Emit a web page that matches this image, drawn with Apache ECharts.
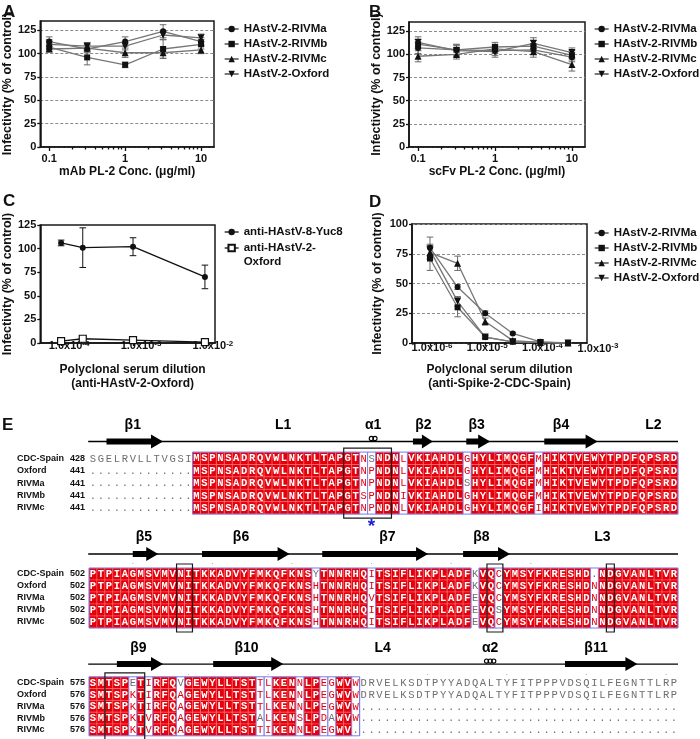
<!DOCTYPE html>
<html>
<head>
<meta charset="utf-8">
<script src="https://cdn.jsdelivr.net/npm/echarts@6.0.0/dist/echarts.min.js"></script>
<style>
html,body{margin:0;padding:0;background:#fff;}
#chart{width:700px;height:739px;}
</style>
</head>
<body>
<div id="chart"></div>
<script>
/* ================= DATA ================= */
const seriesNames = ['HAstV-2-RIVMa', 'HAstV-2-RIVMb', 'HAstV-2-RIVMc', 'HAstV-2-Oxford'];
/* Panel A */
const concA = [0.1, 0.316, 1, 3.16, 10];
const aRIVMa = [113, 105, 113, 124, 113];
const aRIVMb = [107, 96, 88, 105, 110];
const aRIVMc = [105, 106, 101, 101, 104];
const aOxford = [110, 108, 108, 120, 117];
const aErrRIVMa = [5, 4, 5, 7, 4];
const aErrRIVMb = [4, 8, 3, 10, 5];
const aErrRIVMc = [3, 4, 5, 6, 4];
const aErrOxford = [5, 4, 4, 5, 4];
/* Panel B */
const concB = [0.1, 0.316, 1, 3.16, 10];
const bRIVMa = [107, 105, 104, 105, 97];
const bRIVMb = [111, 105, 108, 109, 99];
const bRIVMc = [98, 100, 106, 103, 89];
const bOxford = [113, 104, 103, 112, 102];
const bErrRIVMa = [6, 5, 5, 5, 5];
const bErrRIVMb = [5, 6, 5, 6, 5];
const bErrRIVMc = [6, 5, 5, 6, 7];
const bErrOxford = [6, 6, 6, 6, 5];
/* Panel C */
const cSeriesNames = ['anti-HAstV-8-Yuc8', 'anti-HAstV-2-Oxford'];
const dilC = [1e-4, 2e-4, 1e-3, 1e-2];
const cYuc8 = [106, 101, 102, 70];
const cErrYuc8 = [3, 21, 9.5, 12.5];
const cOxford = [2, 4.5, 3, 1];
const cErrOxford = [0.8, 0.8, 0.8, 0.5];
/* Panel D */
const dilD = [1e-6, 3.16e-6, 1e-5, 3.16e-5, 1e-4, 3.16e-4];
const dRIVMa = [80, 47, 25, 8, 1, 0];
const dRIVMb = [71, 30, 5, 1, 0.5, 0];
const dRIVMc = [76, 67, 18, 2, 0.5, 0];
const dOxford = [78, 35, 5, 1, 0.5, 0];
const dErrRIVMa = [9, 2, 2, 1, 0.5, 0];
const dErrRIVMb = [10, 8, 1, 0.5, 0.3, 0];
const dErrRIVMc = [6, 6, 3, 1, 0.3, 0];
const dErrOxford = [5, 4, 1, 0.5, 0.3, 0];
/* Ticks */
const yTicksABC = [0, 25, 50, 75, 100, 125];
const yTicksD = [0, 25, 50, 75, 100];
const xTicksAB = [0.1, 1, 10];
const xTickLabelsAB = ['0.1', '1', '10'];
const xTicksC = [1e-4, 1e-3, 1e-2];
const xTickLabelsC = ['1.0x10^-4', '1.0x10^-3', '1.0x10^-2'];
const xTicksD = [1e-6, 1e-5, 1e-4, 1e-3];
const xTickLabelsD = ['1.0x10^-6', '1.0x10^-5', '1.0x10^-4', '1.0x10^-3'];
/* Alignment (panel E) */
const seqNames = ['CDC-Spain', 'Oxford', 'RIVMa', 'RIVMb', 'RIVMc'];
const block1Start = [428, 441, 441, 441, 441];
const block1Seq = [
  'SGELRVLLTVGSIMSPNSADRQVWLNKTLTAPGTNSNDNLVKIAHDLGHYLIMQGFMHIKTVEWYTPDFQPSRD',
  '.............MSPNSADRQVWLNKTLTAPGTNPNDNLVKIAHDLGHYLIMQGFMHIKTVEWYTPDFQPSRD',
  '.............MSPNSADRQVWLNKTLTAPGTNPNDNLVKIAHDLSHYLIMQGFMHIKTVEWYTPDFQPSRD',
  '.............MSPNSADRQVWLNKTLTAPGTSPNDNIVKIAHDLGHYLIMQGFMHIKTVEWYTPDFQPSRD',
  '.............MSPNSADRQVWLNKTLTAPGTNPNDNLVKIAHDLGHYLIMQGFIHIKTVEWYTPDFQPSRD'
];
const block2Start = [502, 502, 502, 502, 502];
const block2Seq = [
  'PTPIAGMSVMVNITKKADVYFMKQFKNSYTNNRHQITSIFLIKPLADFKVQCYMSYFKRESHD.NDGVANLTVR',
  'PTPIAGMSVMVNITKKADVYFMKQFKNSHTNNRHQITSIFLIKPLADFKVQCYMSYFKRESHDNNDGVANLTVR',
  'PTPIAGMSVMVNITKKADVYFMKQFKNSHTNNRHQVTSIFLIKPLADFEVQCYMSYFKRESHDNNDGVANLTVR',
  'PTPIAGMSVMVNITKKADVYFMKQFKNSHTNNRHQITSIFLIKPLADFEVQSYMSYFKRESHDNNDGVANLTVR',
  'PTPIAGMSVMVNITKKADVYFMKQFKNSHTNNRHQITSIFLIKPLADFEVQCYMSYFKRESHDNNDGVANLTVR'
];
const block3Start = [575, 576, 576, 576, 576];
const block3Seq = [
  'SMTSPETIRFQVGEWYLLTSTTLKENNLPEGWVWDRVELKSDTPYYADQALTYFITPPPVDSQILFEGNTTLRP',
  'SMTSPKTIRFQAGEWYLLTSTTLKENNLPEGWVWDRVELKSDTPYYADQALTYFITPPPVDSQILFEGNTTLRP',
  'SMTSPKTIRFQAGEWYLLTSTTLKENNLPEGWVW........................................',
  'SMTSPKTVRFQAGEWYLLTSTALKENSLPDAWVW........................................',
  'SMTSPKTVRFQAGEWYLLTSTTIKENNLPEGWV.........................................'
];
const block1Boxes = [[32, 37]];
const block2Boxes = [[11, 12], [50, 51], [65, 65]];
const block3Boxes = [[2, 6]];
const block1Strands = [[2.2, 9.3], [40.7, 43.2], [47.4, 50.4], [57.2, 63.9]];
const block2Strands = [[5.5, 8.7], [14.2, 25.2], [29.3, 42.6], [47.0, 52.9]];
const block3Strands = [[3.5, 9.3], [15.6, 24.4], [59.8, 68.9]];
const block1Labels = [['β1', 5.5], ['L1', 24.4], ['α1', 35.7], ['β2', 42.0], ['β3', 48.7], ['β4', 59.3], ['L2', 70.9]];
const block2Labels = [['β5', 6.9], ['β6', 19.1], ['β7', 37.5], ['β8', 49.3], ['L3', 64.5]];
const block3Labels = [['β9', 6.2], ['β10', 19.8], ['L4', 36.9], ['α2', 50.4], ['β11', 63.7]];
const block1Helix = [[35.7, 2]];
const block2Helix = [];
const block3Helix = [[50.4, 3]];
const block1Dots = [];
const block2Dots = [5, 15, 25, 35, 45, 55, 65];
const block3Dots = [12, 22, 32, 42, 52, 62, 72];
const block1Stars = [35];
const block2Stars = [];
const block3Stars = [];

/* ================= STYLE ================= */
const SANS = 'Liberation Sans';
const MONO = 'Liberation Mono';
const RED = '#e3000b';
const GRAYTXT = '#6e6e6e';
const BLUE = '#7b7be8';
const INK = '#111';

const L10 = Math.log10;
const AB_MIN = -1.118, AB_MAX = 1.17;
const C_MIN = -4.29, C_MAX = -1.86;
const D_MIN = -6.326, D_MAX = -3.156;

const minorAB = [];
[-1, 0].forEach(d => { for (let k = 2; k <= 9; k++) minorAB.push(L10(k * Math.pow(10, d))); });

const symbols = [
  {symbol: 'circle', symbolSize: 6, symbolRotate: 0},
  {symbol: 'rect', symbolSize: 6, symbolRotate: 0},
  {symbol: 'triangle', symbolSize: 7, symbolRotate: 0},
  {symbol: 'triangle', symbolSize: 7, symbolRotate: 180}
];

function lineSeries(name, xs, ys, xi, yi, sym, lineColor, itemStyle) {
  return {
    type: 'line', name, xAxisIndex: xi, yAxisIndex: yi,
    data: xs.map((x, i) => [L10(x), ys[i]]),
    symbol: sym.symbol, symbolSize: sym.symbolSize, symbolRotate: sym.symbolRotate,
    showAllSymbol: true, silent: true, z: 4,
    lineStyle: {color: lineColor, width: 1.3},
    itemStyle: itemStyle || {color: INK}
  };
}
function errRender(color, cap) {
  return function (params, api) {
    const x = api.value(0), y = api.value(1), e = api.value(2);
    const lo = Math.max(0, y - e);
    const pHi = api.coord([x, y + e]), pLo = api.coord([x, lo]);
    const st = {stroke: color, lineWidth: 1};
    return {type: 'group', children: [
      {type: 'line', shape: {x1: pHi[0], y1: pHi[1], x2: pLo[0], y2: pLo[1]}, style: st},
      {type: 'line', shape: {x1: pHi[0] - cap, y1: pHi[1], x2: pHi[0] + cap, y2: pHi[1]}, style: st},
      {type: 'line', shape: {x1: pLo[0] - cap, y1: pLo[1], x2: pLo[0] + cap, y2: pLo[1]}, style: st}
    ]};
  };
}
function errSeries(xs, ys, es, xi, yi, color) {
  return {type: 'custom', xAxisIndex: xi, yAxisIndex: yi, silent: true, z: 3,
    data: xs.map((x, i) => [L10(x), ys[i], es[i]]), renderItem: errRender(color, 3.3)};
}

const axisLineSt = {show: true, onZero: false, lineStyle: {color: INK, width: 1.5}};
const tickSt = {color: INK, width: 1.3};
const nameSt = {fontFamily: SANS, fontWeight: 'bold', fontSize: 12, color: INK, lineHeight: 14};
const yNameSt = {fontFamily: SANS, fontWeight: 'bold', fontSize: 12.5, color: INK};
const labelSt = {fontFamily: SANS, fontWeight: 'bold', fontSize: 11, color: INK};
const supRich = {
  b: {fontFamily: SANS, fontWeight: 'bold', fontSize: 11, color: INK, lineHeight: 11, verticalAlign: 'bottom'},
  s: {fontFamily: SANS, fontWeight: 'bold', fontSize: 8, color: INK, lineHeight: 8, verticalAlign: 'top', padding: [0, 0, 6, 0]},
  g: {width: 18}
};
function supText(str) { const p = str.split('^'); return '{b|' + p[0] + '}{s|' + p[1] + '}'; }
function pickLabel(ticks, labels, v, tol) {
  const i = ticks.findIndex(t => Math.abs(L10(t) - v) < tol);
  return i < 0 ? '' : labels[i];
}

function yAxisCfg(gi, max, ticks, name, gap, split) {
  return {
    type: 'value', gridIndex: gi, min: 0, max: max, interval: 25,
    name: name, nameLocation: 'middle', nameGap: gap, nameTextStyle: yNameSt,
    axisLine: axisLineSt,
    axisTick: {show: true, length: 3, customValues: ticks, lineStyle: tickSt},
    axisLabel: Object.assign({show: true, customValues: ticks, margin: 4}, labelSt),
    splitLine: {show: split, lineStyle: {type: [3, 2], color: '#8c8c8c', width: 1}}
  };
}

/* ================= ALIGNMENT HELPERS ================= */
const blocks = [
  {rows: block1Seq, starts: block1Start, boxes: block1Boxes, strands: block1Strands, labels: block1Labels, helix: block1Helix, dots: block1Dots, stars: block1Stars},
  {rows: block2Seq, starts: block2Start, boxes: block2Boxes, strands: block2Strands, labels: block2Labels, helix: block2Helix, dots: block2Dots, stars: block2Stars},
  {rows: block3Seq, starts: block3Start, boxes: block3Boxes, strands: block3Strands, labels: block3Labels, helix: block3Helix, dots: block3Dots, stars: block3Stars}
];
const blockLayout = [
  {top: 452.1, h: 62, lineY: -0.855, labelY: -2.19, dotsY: -0.45, starY: 5.72},
  {top: 568, h: 60, lineY: -1.167, labelY: -2.54, dotsY: -0.5, starY: 5.7},
  {top: 676.8, h: 59, lineY: -1.08, labelY: -2.44, dotsY: -0.33, starY: 5.7}
];
const simGroups = ['ILVM', 'NS', 'DE'];
function similar(a, b) { return a === b || simGroups.some(g => g.includes(a) && g.includes(b)); }
function classify(rows, c) {
  const col = rows.map(s => s[c]);
  const letters = col.filter(ch => ch !== '.');
  if (letters.length === col.length && letters.every(ch => ch === letters[0])) return {type: 'id', main: letters[0]};
  const counts = {};
  letters.forEach(ch => { counts[ch] = (counts[ch] || 0) + 1; });
  let main = null, best = 0;
  Object.keys(counts).forEach(k => { if (counts[k] > best) { best = counts[k]; main = k; } });
  if (!main) return {type: 'none'};
  const score = col.filter(ch => ch !== '.' && similar(ch, main)).length / col.length;
  return score >= 0.7 ? {type: 'sim', main} : {type: 'none', main};
}
const colInfo = blocks.map(B => { const out = []; for (let c = 0; c < B.rows[0].length; c++) out.push(classify(B.rows, c)); return out; });
function conservedRuns(info) {
  const out = []; let s = -1;
  for (let c = 0; c <= info.length; c++) {
    const ok = c < info.length && info[c].type !== 'none';
    if (ok && s < 0) s = c;
    if (!ok && s >= 0) { out.push([s, c - 1]); s = -1; }
  }
  return out;
}

function cellRender(bi) {
  return function (params, api) {
    const c = api.value(0), r = api.value(1);
    const info = colInfo[bi][c];
    const ch = blocks[bi].rows[r][c];
    const p = api.coord([c, r]);
    const s = api.size([1, 1]);
    const children = [];
    let fill = GRAYTXT, weight = 'normal';
    if (info.type === 'id') {
      children.push({type: 'rect', shape: {x: p[0], y: p[1], width: s[0], height: s[1]},
        style: {fill: RED, stroke: 'rgba(255,160,160,0.55)', lineWidth: 0.6}});
      fill = '#fff'; weight = 'bold';
    } else if (info.type === 'sim' && ch !== '.' && similar(ch, info.main)) {
      fill = RED;
    }
    children.push({type: 'text', style: {text: ch, x: p[0] + s[0] / 2, y: p[1] + s[1] / 2 + 0.5,
      align: 'center', verticalAlign: 'middle', fill: fill, fontFamily: MONO, fontSize: 10.5, fontWeight: weight}});
    return {type: 'group', children};
  };
}

function annotRender(bi) {
  const B = blocks[bi], Lb = blockLayout[bi], info = colInfo[bi];
  return function (params, api) {
    const ch = [];
    const xP = col => api.coord([col, 0])[0];
    const yP = row => api.coord([0, row])[1];
    const y0 = yP(0), y5 = yP(5);
    conservedRuns(info).forEach(([a, b]) => {
      ch.push({type: 'rect', shape: {x: xP(a), y: y0, width: xP(b + 1) - xP(a), height: y5 - y0},
        style: {fill: 'none', stroke: BLUE, lineWidth: 1}});
    });
    info.forEach((inf, c) => {
      if (inf.type === 'sim') {
        [c, c + 1].forEach(e => ch.push({type: 'line', shape: {x1: xP(e), y1: y0, x2: xP(e), y2: y5},
          style: {stroke: BLUE, lineWidth: 0.8}}));
      }
    });
    B.boxes.forEach(([a, b]) => {
      ch.push({type: 'rect', shape: {x: xP(a), y: y0 - 4, width: xP(b + 1) - xP(a), height: y5 - y0 + 8},
        style: {fill: 'none', stroke: '#1a1a1a', lineWidth: 1.2}});
    });
    const ly = yP(Lb.lineY);
    ch.push({type: 'line', shape: {x1: xP(-0.1), y1: ly, x2: xP(74), y2: ly}, style: {stroke: '#000', lineWidth: 1.3}});
    B.strands.forEach(([a, b]) => {
      const x1 = xP(a), x2 = xP(b);
      const hl = Math.min(12, (x2 - x1) * 0.55);
      ch.push({type: 'polygon', shape: {points: [[x1, ly - 3], [x2 - hl, ly - 3], [x2 - hl, ly - 7], [x2, ly],
        [x2 - hl, ly + 7], [x2 - hl, ly + 3], [x1, ly + 3]]}, style: {fill: '#000'}});
    });
    B.helix.forEach(([x, n]) => {
      const cx = xP(x);
      for (let k = 0; k < n; k++) {
        ch.push({type: 'circle', shape: {cx: cx + (k - (n - 1) / 2) * 3.6, cy: ly - 3, r: 2.1},
          style: {fill: 'none', stroke: '#000', lineWidth: 1.1}});
      }
    });
    B.labels.forEach(([t, x]) => {
      ch.push({type: 'text', style: {text: t, x: xP(x), y: yP(Lb.labelY), align: 'center', verticalAlign: 'middle',
        fill: '#000', fontFamily: SANS, fontWeight: 'bold', fontSize: 14}});
    });
    B.dots.forEach(c => {
      ch.push({type: 'text', style: {text: '.', x: xP(c + 0.5), y: yP(Lb.dotsY), align: 'center', verticalAlign: 'middle',
        fill: '#777', fontFamily: SANS, fontSize: 8}});
    });
    B.stars.forEach(c => {
      ch.push({type: 'text', style: {text: '*', x: xP(c + 0.5), y: yP(Lb.starY) + 4, align: 'center', verticalAlign: 'middle',
        fill: '#1d1dd8', fontFamily: SANS, fontWeight: 'bold', fontSize: 19}});
    });
    seqNames.forEach((n, r) => {
      const yc = yP(r + 0.5);
      ch.push({type: 'text', style: {text: n, x: xP(0) - 72, y: yc, align: 'left', verticalAlign: 'middle',
        fill: INK, fontFamily: SANS, fontWeight: 'bold', fontSize: 9}});
      ch.push({type: 'text', style: {text: String(B.starts[r]), x: xP(0) - 4, y: yc, align: 'right', verticalAlign: 'middle',
        fill: INK, fontFamily: SANS, fontWeight: 'bold', fontSize: 9}});
    });
    return {type: 'group', children: ch};
  };
}

/* ================= OPTION ================= */
const grids = [
  {left: 39, top: 21, width: 175, height: 126, show: true},
  {left: 409, top: 22, width: 176, height: 125, show: true},
  {left: 40, top: 225, width: 175, height: 118, show: true},
  {left: 412, top: 224, width: 175, height: 119, show: true},
  {left: 89, top: blockLayout[0].top, width: 589, height: blockLayout[0].h, show: false},
  {left: 89, top: blockLayout[1].top, width: 589, height: blockLayout[1].h, show: false},
  {left: 89, top: blockLayout[2].top, width: 589, height: blockLayout[2].h, show: false}
].map(g => Object.assign({borderColor: '#1a1a1a', borderWidth: 1.5, backgroundColor: 'transparent'}, g));

function xMainAB(gi, name) {
  const vals = xTicksAB.map(L10);
  return {
    type: 'value', gridIndex: gi, position: 'bottom', min: AB_MIN, max: AB_MAX,
    name: name, nameLocation: 'middle', nameGap: 18, nameTextStyle: nameSt,
    axisLine: axisLineSt,
    axisTick: {show: true, length: 4, customValues: vals, lineStyle: tickSt},
    axisLabel: Object.assign({show: true, customValues: vals, margin: 6,
      formatter: v => pickLabel(xTicksAB, xTickLabelsAB, v, 1e-6)}, labelSt),
    splitLine: {show: false}
  };
}
function xMinorAB(gi) {
  return {
    type: 'value', gridIndex: gi, position: 'bottom', offset: 0, min: AB_MIN, max: AB_MAX,
    axisLine: {show: false}, axisLabel: {show: false}, splitLine: {show: false},
    axisTick: {show: true, length: 2.5, customValues: minorAB, lineStyle: tickSt}
  };
}

const xAxes = [
  xMainAB(0, 'mAb PL-2 Conc. (μg/ml)'),
  xMinorAB(0),
  xMainAB(1, 'scFv PL-2 Conc. (μg/ml)'),
  xMinorAB(1),
  {
    type: 'value', gridIndex: 2, position: 'bottom', min: C_MIN, max: C_MAX,
    name: 'Polyclonal serum dilution\n(anti-HAstV-2-Oxford)', nameLocation: 'middle', nameGap: 20,
    nameTextStyle: Object.assign({padding: [0, 0, 0, 10]}, nameSt),
    axisLine: axisLineSt,
    axisTick: {show: true, length: 3, customValues: xTicksC.map(L10), lineStyle: tickSt},
    axisLabel: {show: true, customValues: xTicksC.map(L10), margin: -3, padding: [0, 0, 0, 16], rich: supRich,
      formatter: v => supText(pickLabel(xTicksC, xTickLabelsC, v, 1e-6))},
    splitLine: {show: false}
  },
  {
    type: 'value', gridIndex: 3, position: 'bottom', min: D_MIN, max: D_MAX,
    name: 'Polyclonal serum dilution\n(anti-Spike-2-CDC-Spain)', nameLocation: 'middle', nameGap: 20,
    nameTextStyle: nameSt,
    axisLine: axisLineSt,
    axisTick: {show: true, length: 3, customValues: xTicksD.map(L10).filter(v => v <= D_MAX), lineStyle: tickSt},
    axisLabel: {show: true, customValues: xTicksD.map(L10).map(v => Math.min(v, D_MAX)), margin: -1, padding: [0, 0, 0, 4], rich: supRich,
      formatter: v => {
        const t = pickLabel(xTicksD, xTickLabelsD, v, 0.2);
        const exact = xTicksD.some(x => Math.abs(L10(x) - v) < 1e-6);
        return (exact ? '' : '{g|}') + supText(t);
      }},
    splitLine: {show: false}
  }
];
[0, 1, 2].forEach(b => xAxes.push({type: 'value', gridIndex: 4 + b, min: 0, max: 74, show: false}));

const yAxes = [
  yAxisCfg(0, 135, yTicksABC, 'Infectivity (% of control)', 22, true),
  yAxisCfg(1, 135, yTicksABC, 'Infectivity (% of control)', 26, true),
  yAxisCfg(2, 125, yTicksABC, 'Infectivity (% of control)', 24, false),
  yAxisCfg(3, 100, yTicksD, 'Infectivity (% of control)', 28, true)
];
[0, 1, 2].forEach(b => yAxes.push({type: 'value', gridIndex: 4 + b, min: 0, max: 5, inverse: true, show: false}));

const GL = '#767676', GE = '#6a6a6a';
const series = [];
[[aRIVMa, aErrRIVMa], [aRIVMb, aErrRIVMb], [aRIVMc, aErrRIVMc], [aOxford, aErrOxford]].forEach((d, i) => {
  series.push(errSeries(concA, d[0], d[1], 0, 0, GE));
  series.push(lineSeries(seriesNames[i], concA, d[0], 0, 0, symbols[i], GL));
});
[[bRIVMa, bErrRIVMa], [bRIVMb, bErrRIVMb], [bRIVMc, bErrRIVMc], [bOxford, bErrOxford]].forEach((d, i) => {
  series.push(errSeries(concB, d[0], d[1], 2, 1, GE));
  series.push(lineSeries(seriesNames[i], concB, d[0], 2, 1, symbols[i], GL));
});
series.push(errSeries(dilC, cYuc8, cErrYuc8, 4, 2, INK));
series.push(lineSeries(cSeriesNames[0], dilC, cYuc8, 4, 2, {symbol: 'circle', symbolSize: 6, symbolRotate: 0}, INK));
series.push(errSeries(dilC, cOxford, cErrOxford, 4, 2, INK));
series.push(lineSeries(cSeriesNames[1], dilC, cOxford, 4, 2, {symbol: 'rect', symbolSize: 7, symbolRotate: 0}, INK,
  {color: '#fff', borderColor: INK, borderWidth: 1.2}));
[[dRIVMa, dErrRIVMa], [dRIVMb, dErrRIVMb], [dRIVMc, dErrRIVMc], [dOxford, dErrOxford]].forEach((d, i) => {
  series.push(errSeries(dilD, d[0], d[1], 5, 3, GE));
  series.push(lineSeries(seriesNames[i], dilD, d[0], 5, 3, symbols[i], GL));
});
blocks.forEach((B, bi) => {
  const cells = [];
  B.rows.forEach((row, r) => { for (let c = 0; c < row.length; c++) cells.push([c, r]); });
  series.push({type: 'custom', xAxisIndex: 6 + bi, yAxisIndex: 4 + bi, silent: true, z: 1, data: cells, renderItem: cellRender(bi)});
  series.push({type: 'custom', xAxisIndex: 6 + bi, yAxisIndex: 4 + bi, silent: true, z: 2, data: [[0, 0]], renderItem: annotRender(bi)});
});

const legendTxt = {fontFamily: SANS, fontWeight: 'bold', fontSize: 11.5, color: INK, lineHeight: 14};
const legendBase = {
  orient: 'vertical', itemWidth: 14, itemHeight: 8, itemGap: 1, selectedMode: false, padding: 0,
  textStyle: legendTxt,
  lineStyle: {color: '#333', width: 1.3}
};
const titleSt = {fontFamily: SANS, fontWeight: 'bold', fontSize: 17, color: INK};

const option = {
  animation: false,
  backgroundColor: '#fff',
  textStyle: {fontFamily: SANS},
  title: [
    {text: 'A', left: 3, top: 4, padding: 0, textStyle: titleSt},
    {text: 'B', left: 369, top: 4, padding: 0, textStyle: titleSt},
    {text: 'C', left: 3, top: 193, padding: 0, textStyle: titleSt},
    {text: 'D', left: 369, top: 194, padding: 0, textStyle: titleSt},
    {text: 'E', left: 2, top: 417, padding: 0, textStyle: titleSt}
  ],
  legend: [
    Object.assign({}, legendBase, {left: 224, top: 22, data: seriesNames}),
    Object.assign({}, legendBase, {left: 594, top: 22, data: seriesNames}),
    Object.assign({}, legendBase, {left: 224, top: 225, itemGap: -12,
      data: cSeriesNames,
      textStyle: Object.assign({}, legendTxt, {rich: {e: {fontSize: 11.5, lineHeight: 14}, t: legendTxt}}),
      formatter: n => n === cSeriesNames[1] ? '{e| }\n{t|anti-HAstV-2-}\n{t|Oxford}' : n,
      lineStyle: {color: INK, width: 1.3}}),
    Object.assign({}, legendBase, {left: 594, top: 226, data: seriesNames})
  ],
  grid: grids,
  xAxis: xAxes,
  yAxis: yAxes,
  series: series
};

const chart = echarts.init(document.getElementById('chart'), null, {renderer: 'canvas', width: 700, height: 739});
chart.setOption(option);
</script>
</body>
</html>
